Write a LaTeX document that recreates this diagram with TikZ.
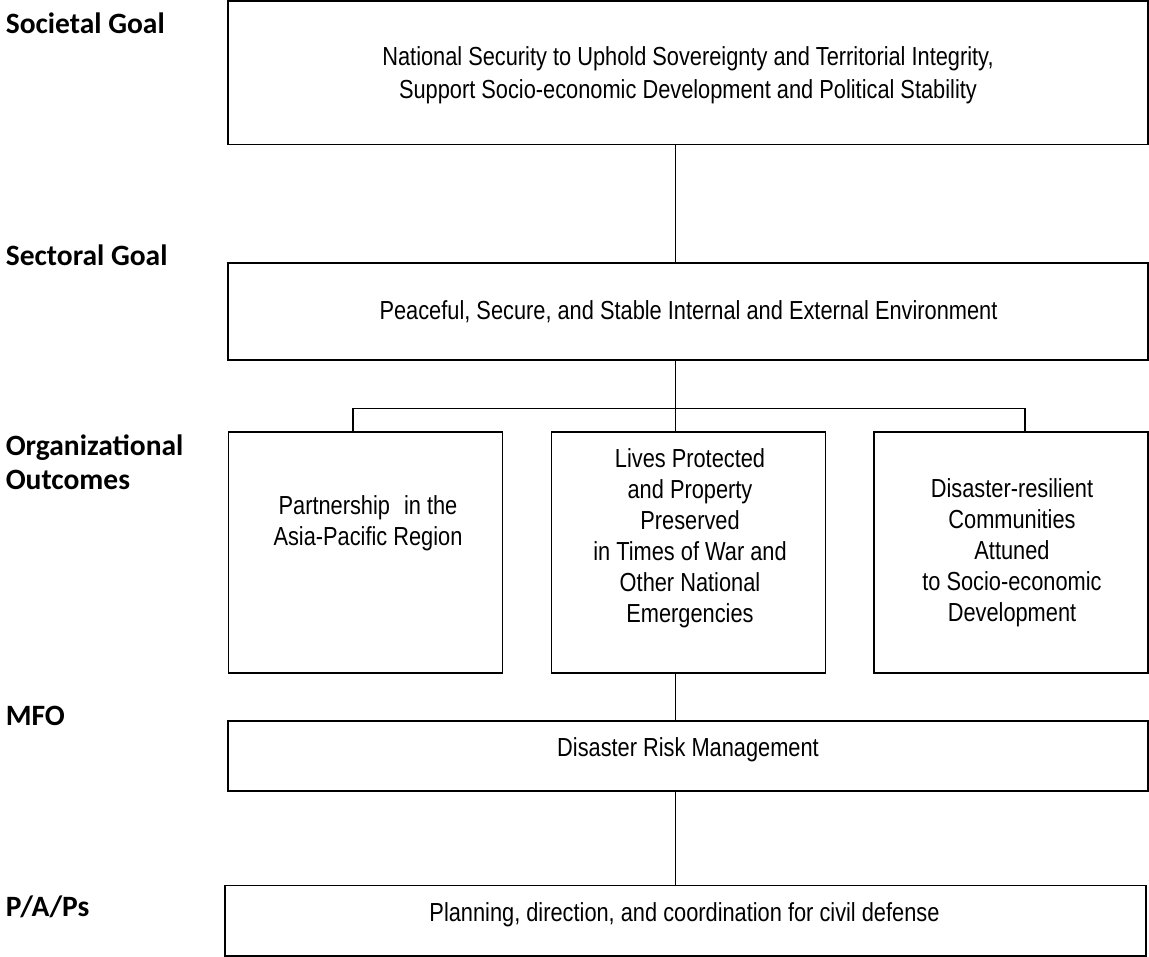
\documentclass[tikz,border=0pt]{standalone}
\usepackage{fontspec}
\newfontfamily\boxfont[FakeStretch=0.835]{Liberation Sans}
\newfontfamily\levelfont{Carlito}

\tikzset{
  box/.style={draw, inner sep=0pt},
  boxtext/.style={font=\boxfont\fontsize{26.1}{31}\selectfont, align=center, inner sep=0pt},
  level/.style={font=\levelfont\bfseries\fontsize{29.5}{34}\selectfont, align=left, inner sep=0pt},
}

\begin{document}
\begin{tikzpicture}[x=1pt,y=-1pt,line width=1.6pt]
\useasboundingbox (0,0) rectangle (1149,957);

\node[level, anchor=base west] (societallabel) at (5,33.3) {Societal Goal};
\node[level, anchor=base west] (sectorallabel) at (5,265.7) {Sectoral Goal};
\node[level, anchor=north west] (orglabel) at (5,433.6) {Organizational\\Outcomes};
\node[level, anchor=base west] (mfolabel) at (5,725) {MFO};
\node[level, anchor=base west] (papslabel) at (5,916.7) {P/A/Ps};

\node[box, minimum width=920, minimum height=143.8] (societal) at (688.1,72.8) {};
\node[box, minimum width=920, minimum height=96.7] (sectoral) at (688.1,311.65) {};
\node[box, minimum width=274, minimum height=240.4] (partner) at (365.3,552.5) {};
\node[box, minimum width=274, minimum height=240.4] (lives) at (688.3,552.5) {};
\node[box, minimum width=274, minimum height=240.4] (resilient) at (1011.2,552.5) {};
\node[box, minimum width=920, minimum height=70] (mfo) at (688.1,755.7) {};
\node[box, minimum width=921, minimum height=70.6] (paps) at (685.2,920.9) {};

\node[boxtext, font=\boxfont\fontsize{26.1}{32.6}\selectfont] (societaltext) at (688,75.4)
  {National Security to Uphold Sovereignty and Territorial Integrity,\\Support Socio-economic Development and Political Stability};
\node[boxtext, anchor=base] (sectoraltext) at (688.5,320)
  {Peaceful, Secure, and Stable Internal and External Environment};
\node[boxtext] (partnertext) at (368,523) {Partnership\hspace{14pt}in the\\Asia-Pacific Region};
\node[boxtext] (livestext) at (690,538.6)
  {Lives Protected\\and Property\\Preserved\\in Times of War and\\Other National\\Emergencies};
\node[boxtext] (resilienttext) at (1012,553)
  {Disaster-resilient\\Communities\\Attuned\\to Socio-economic\\Development};
\node[boxtext, anchor=base] (mfotext) at (688,756) {Disaster Risk Management};
\node[boxtext, anchor=base] (papstext) at (684.5,921)
  {Planning, direction, and coordination for civil defense};

\coordinate (spine) at (675.5,408.7);
\coordinate (forkL) at (352.7,408.7);
\coordinate (forkR) at (1025,408.7);

\draw (societal.south -| spine) -- (sectoral.north -| spine);
\draw (sectoral.south -| spine) -- (lives.north -| spine);
\draw (partner.north -| forkL) -- (forkL) -- (forkR) -- (resilient.north -| forkR);
\draw (lives.south -| spine) -- (mfo.north -| spine);
\draw (mfo.south -| spine) -- (paps.north -| spine);
\end{tikzpicture}
\end{document}
